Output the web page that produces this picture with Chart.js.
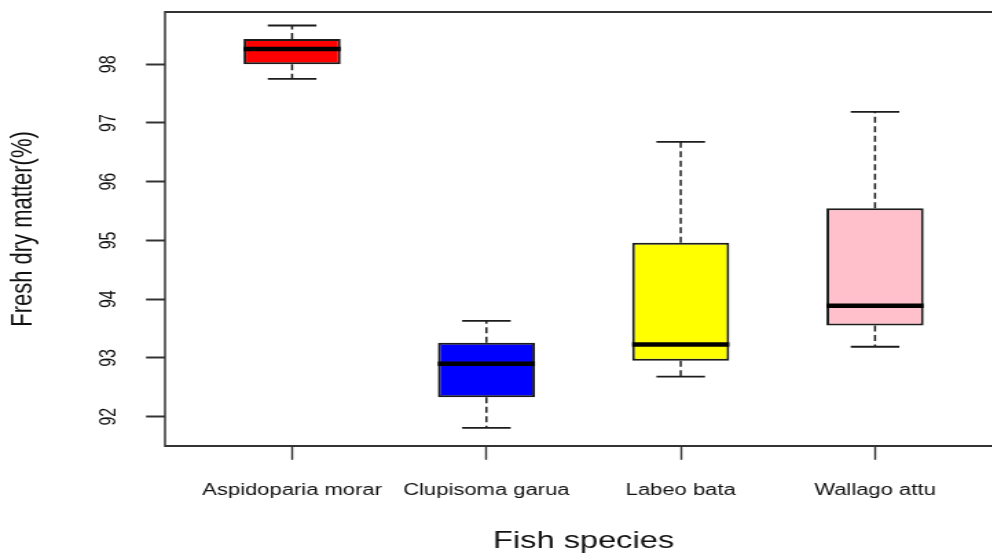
<!DOCTYPE html>
<html>
<head>
<meta charset="utf-8">
<script src="https://cdn.jsdelivr.net/npm/chart.js@4.4.1/dist/chart.umd.min.js"></script>
<style>
  html, body { margin: 0; padding: 0; background: #fff; overflow: hidden; }
  #frame { width: 992px; height: 556px; overflow: hidden; position: relative; }
  /* the plot is drawn on a narrower canvas and widened horizontally */
  #stretch { position: absolute; left: 0; top: 0; width: 740px; height: 556px;
             transform: scaleX(1.375); transform-origin: 0 0; }
</style>
</head>
<body>
<div id="frame"><div id="stretch"><canvas id="c" width="740" height="556"></canvas></div></div>
<script>
// Fresh dry matter (%) by fish species: box-and-whisker summary
const species      = ['Aspidoparia morar', 'Clupisoma garua', 'Labeo bata', 'Wallago attu'];
const whiskerLow   = [97.75, 91.81, 92.68, 93.19];
const quartile1    = [98.00, 92.33, 92.95, 93.55];
const medianValue  = [98.26, 92.90, 93.23, 93.89];
const quartile3    = [98.43, 93.26, 94.96, 95.55];
const whiskerHigh  = [98.66, 93.63, 96.68, 97.19];
const boxColors    = ['#ff0000', '#0000ff', '#ffff00', '#ffc0cb'];
const yTickValues  = [92, 93, 94, 95, 96, 97, 98];

const FONT = '"Liberation Sans", Arial, sans-serif';
const INK = '#1c1c1c';

// whiskers, staples, medians and the plot frame
const boxParts = {
  id: 'boxParts',
  afterDatasetsDraw(chart) {
    const { ctx, chartArea, scales: { x, y } } = chart;
    const bars = chart.getDatasetMeta(0).data;
    ctx.save();
    species.forEach((_, i) => {
      const cx = x.getPixelForValue(i + 1);
      const half = bars[i].width / 2;
      const yLow = y.getPixelForValue(whiskerLow[i]);
      const yHigh = y.getPixelForValue(whiskerHigh[i]);
      const yQ1 = y.getPixelForValue(quartile1[i]);
      const yQ3 = y.getPixelForValue(quartile3[i]);
      const yMed = y.getPixelForValue(medianValue[i]);
      // dashed whiskers
      ctx.strokeStyle = INK;
      ctx.lineWidth = 1.5;
      ctx.setLineDash([6, 3.5]);
      ctx.beginPath();
      ctx.moveTo(cx, yQ3); ctx.lineTo(cx, yHigh);
      ctx.moveTo(cx, yQ1); ctx.lineTo(cx, yLow);
      ctx.stroke();
      // staples
      ctx.setLineDash([]);
      ctx.lineWidth = 1.8;
      ctx.beginPath();
      ctx.moveTo(cx - half / 2, yHigh); ctx.lineTo(cx + half / 2, yHigh);
      ctx.moveTo(cx - half / 2, yLow); ctx.lineTo(cx + half / 2, yLow);
      ctx.stroke();
      // median
      ctx.strokeStyle = '#000';
      ctx.lineWidth = 4.5;
      ctx.beginPath();
      ctx.moveTo(cx - half, yMed); ctx.lineTo(cx + half, yMed);
      ctx.stroke();
    });
    // frame
    ctx.strokeStyle = '#333';
    ctx.lineWidth = 2;
    ctx.beginPath();
    ctx.moveTo(chartArea.left, chartArea.top); ctx.lineTo(chartArea.right + 20, chartArea.top);
    ctx.moveTo(chartArea.left, chartArea.bottom); ctx.lineTo(chartArea.right + 20, chartArea.bottom);
    ctx.stroke();
    ctx.lineWidth = 1.5;
    ctx.beginPath();
    ctx.moveTo(chartArea.left, chartArea.top - 1); ctx.lineTo(chartArea.left, chartArea.bottom + 1);
    ctx.stroke();
    ctx.restore();
  }
};

new Chart(document.getElementById('c'), {
  type: 'bar',
  data: {
    datasets: [{
      data: species.map((_, i) => ({ x: i + 1, y: [quartile1[i], quartile3[i]] })),
      backgroundColor: boxColors,
      borderColor: INK,
      borderWidth: 2,
      borderSkipped: false,
      barPercentage: 0.5,
      categoryPercentage: 1
    }]
  },
  options: {
    responsive: false,
    animation: false,
    events: [],
    layout: { padding: { left: 0, top: 12, right: 11.2, bottom: 0 } },
    plugins: { legend: { display: false }, tooltip: { enabled: false } },
    scales: {
      x: {
        type: 'linear',
        min: 0.346,
        max: 4.654,
        offset: false,
        afterBuildTicks: s => { s.ticks = species.map((_, i) => ({ value: i + 1 })); },
        afterFit: s => { s.height = 110; s.paddingLeft = 0; s.paddingRight = 0; },
        border: { display: false },
        grid: { display: true, offset: false, drawOnChartArea: false, drawTicks: true, tickLength: 13.8,
                tickColor: '#333', tickWidth: 1.4 },
        ticks: {
          autoSkip: false, maxRotation: 0, minRotation: 0, padding: 21,
          color: '#111', font: { family: FONT, size: 16 },
          callback: v => species[v - 1] ?? ''
        },
        title: {
          display: true, text: 'Fish species', color: '#111',
          font: { family: FONT, size: 23.7, lineHeight: 1 },
          padding: { top: 0, bottom: 3 }
        }
      },
      y: {
        type: 'linear',
        min: 91.5,
        max: 98.89,
        afterBuildTicks: s => { s.ticks = yTickValues.map(v => ({ value: v })); },
        afterFit: s => { s.width = 120; s.paddingTop = 0; s.paddingBottom = 0; },
        border: { display: false },
        grid: { display: true, drawOnChartArea: false, drawTicks: true, tickLength: 13.8,
                tickColor: '#333', tickWidth: 2 },
        ticks: {
          autoSkip: false, minRotation: 90, maxRotation: 90, crossAlign: 'center', padding: 18,
          color: '#111', font: { family: FONT, size: 16 },
          callback: v => String(v)
        },
        title: {
          display: true, text: 'Fresh dry matter(%)', color: '#111',
          font: { family: FONT, size: 22, lineHeight: 1 },
          padding: { top: 5.5, bottom: 0 }
        }
      }
    }
  },
  plugins: [boxParts]
});
</script>
</body>
</html>
